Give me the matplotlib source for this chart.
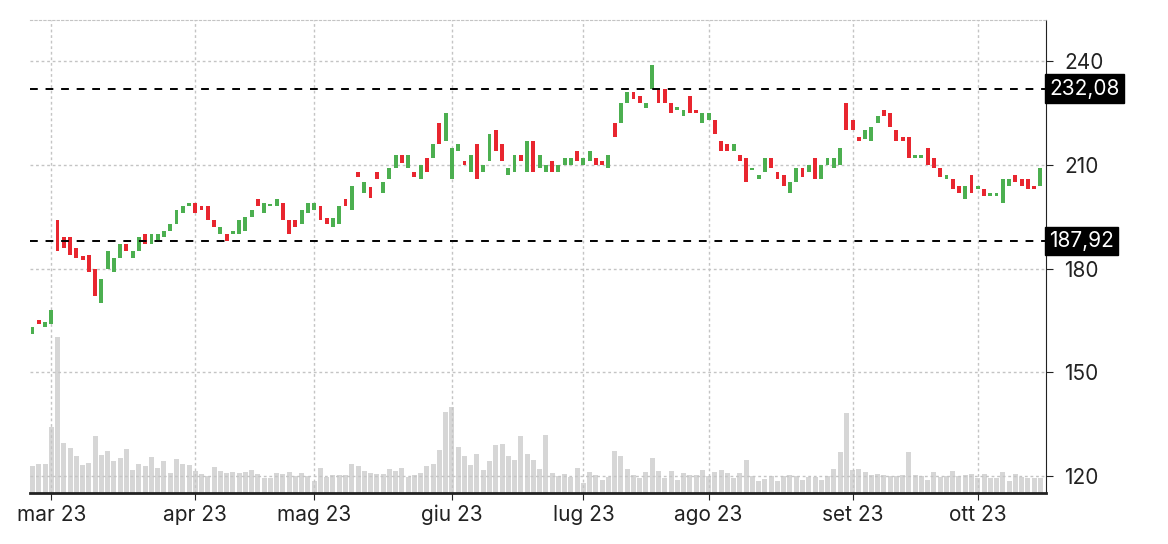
import matplotlib
matplotlib.use("Agg")
import matplotlib.pyplot as plt
import numpy as np
import pandas as pd

plt.rcParams['font.family'] = ['Inter', 'DejaVu Sans']

candles_a = [(161,163),(165,164),(163,164.5),(164,168),
 (194,185),(189,186),(189,184),(186,183),(183.6,182.5),(184,179),(180,172),(170,177),
 (180,185),(179,183),(183,187),(187,185),(183,185),(185,189),(190,187),(187,190),(188,190),(189,191),
 (191,193),(193,197),(196,198),(198,199),(199,196),(198,197),(198,194),(194,192),(190,192),(190,188),
 (190,191),(190,194),(191,195),(195,197),(200,198),(196,199),(198,198.5),(198,200),(199,194),(194,190),
 (194,192),(193,197),(196,199),(197,199),(198,194),(194.5,193),(192,194.5),(193,198),(200,198),(197,204)]
candles_b = [(208,206.5),(202,205),(203.6,200.5),(208,206),(202,205),(206,209),(209,213),(213,210.5)]
candles_c = [(209,213),(208,206.5),(206,210),(212,208),(212,216),(222,216),(217,225),(206,215),(214,216),(211,210),
 (208,213),(216,206),(208,210),(211,219),(220,214),(216,211),(207,209),(208,213),(213,211),(208,217),
 (217,208),(209,213),(208,210),(211,208),(208,210),(210,212),(210,212),(214,211),(210,212),(211,214),
 (212,210),(211,210),(209,213),(222,218),(222,228),(228,231),(231,229),(230,228),(226.5,228),(232,239),
 (232,228),(232,228),(228,225),(226,226.8),(224,226),(230,225),(226,225),(222,225),(223,225),(223,219),
 (217,214),(216,214),(214,216),(213,211),(212,205),(208.6,209.2),(206,207),(208,212),(212,209),(208,206),
 (207,204),(202,205),(205,209)]
candles_d = [(209,206.5),(208,210),(212,206),(206,210),(210,212),(209,212),(210,215),(228,220),(223,220),(218,217),
 (217.5,220),(217,221),(222,224),(226,224),(225,221),(220,217),(218,217),(218,212),(212,213),(212,213),
 (215,210),(212,209),(209,206.5),(206,207),(206,203),(204,202),(200,204),(207,202),(203,204),(203,201),
 (201,202),(201,202),(199,206),(204,206),(207,205),(206,204),(206,203),(204,203),(204,209)]
candles = candles_a + candles_b + candles_c + candles_d
opens = [o for o, c in candles]
closes = [c for o, c in candles]

volumes = [27.3,28.7,28.7,65.7,155.7,50,44.7,37.3,28,29.7,57,38,42,32,35,43.7,23,29,27,36,25.3,32,20,33.7,29,27.7,
 22,19.3,16.7,26,22,20.3,20.7,20,21,22.7,19.3,15.3,15.3,20,18.7,20.7,16.7,20,17.3,12,25,16,18.3,18.3,17.7,29,27,22,
 20,19,19,24,21.7,25,16.3,18,20,27.3,29,43,81,86.3,46,37,28,38.7,23,32,48,48.7,37.3,33,56.7,39.3,33,
 23.7,58.3,20,17,19,16,25,10,21,17.7,12.7,16,42,37,24,18,14.7,21,35.3,22,14.7,22,13.3,20,18,17.7,23,17,21.3,23,20,15,
 20,32.7,16.7,12,14,16.7,11.7,17,17.7,16.7,13,16,16.3,13,17,24.3,41,80,23.3,24,21,18,18.7,18,16.7,17.3,18,40.7,18,
 16.7,12.7,20.7,16.3,17.3,22.3,17.3,18.3,18.7,15.3,19,15,15,21,11.7,19,16.3,15,15,15]

month_labels = ["mar 23", "apr 23", "mag 23", "giu 23", "lug 23", "ago 23", "set 23", "ott 23"]
ref_lines = [232.08, 187.92]
yticks = [120, 150, 180, 210, 240]

n = len(candles)
holidays = pd.to_datetime(["2023-04-07", "2023-05-29", "2023-06-19", "2023-07-04", "2023-09-04"])
days = pd.bdate_range("2023-02-24", periods=n + 10)
days = days[~days.isin(holidays)][:n]
x = np.arange(n)
nv = min(len(volumes), n)

fig = plt.figure(figsize=(11.68, 5.44), dpi=100)
ax = fig.add_axes([30/1168, 51/544, 1016/1168, 473/544])
ax2 = ax.twinx()
ax.set_zorder(ax2.get_zorder() + 1)
ax.patch.set_visible(False)

ax2.bar(x[:nv], volumes[:nv], width=0.8, color="#d6d6d6", zorder=1)
ax2.set_ylim(0, 473)
ax2.set_yticks([])
for s in ax2.spines.values():
    s.set_visible(False)

up = np.array(closes) >= np.array(opens)
colors = np.where(up, "#4caf50", "#e8262f")
bottoms = np.minimum(opens, closes)
heights = np.maximum(np.abs(np.array(closes) - np.array(opens)), 0.6)
ax.bar(x, heights, bottom=bottoms, width=0.62, color=colors, zorder=3)

for v in ref_lines:
    ax.axhline(v, color="black", lw=1.4, ls=(0, (4, 4)), zorder=4)
    ax.text(1.003, v, f"{v:.2f}".replace(".", ","), transform=ax.get_yaxis_transform(),
            ha="left", va="center", color="white", fontsize=15, zorder=5, clip_on=False,
            bbox=dict(boxstyle="square,pad=0.2", fc="black", ec="black"))

ax.set_ylim(115.1, 251.9)
ax.set_xlim(-0.4, n - 0.1)
ax.yaxis.tick_right()
ax.set_yticks(yticks)
ax.set_yticklabels([str(t) for t in yticks])

tick_pos = []
for m in range(3, 11):
    idx = np.where(days.month == m)[0]
    tick_pos.append(idx[0])
ax.set_xticks(tick_pos)
ax.set_xticklabels(month_labels[:len(tick_pos)])
ax.tick_params(axis="both", labelsize=15, colors="#222222", length=5)
ax.tick_params(axis="y", pad=8)

ax.grid(True, color="#c4c4c4", ls=(0, (2, 2)), lw=1, zorder=0)
ax.spines["left"].set_visible(False)
ax.spines["top"].set_color("#c4c4c4")
ax.spines["top"].set_linestyle((0, (2, 2)))
ax.spines["right"].set_color("#222222")
ax.spines["bottom"].set_color("#222222")
ax.spines["bottom"].set_linewidth(2)

fig.savefig("out.png", dpi=100)
